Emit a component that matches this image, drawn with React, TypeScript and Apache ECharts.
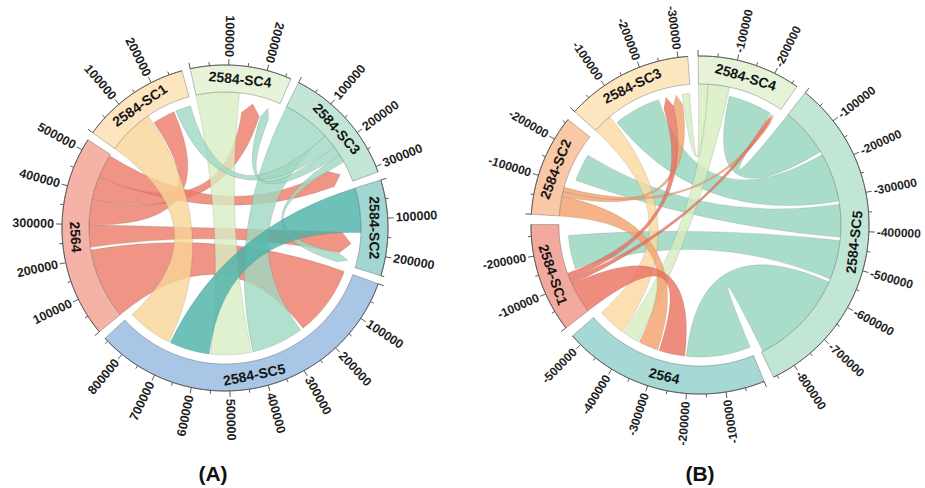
import React, { useEffect, useRef } from 'react';
import * as echarts from 'echarts';

// ---------- Chart (A) data ----------
const sectorsA = ['2584-SC5', '2564', '2584-SC1', '2584-SC4', '2584-SC3', '2584-SC2'];
const sizesA = [860000, 530000, 285000, 265000, 315000, 250000];
const bandColorsA = ['#a9c6e6', '#f5b2a7', '#fde5bf', '#e8f4da', '#c3e6d7', '#a2d6d2'];
const chordColorsA = ['#8fb4dd', '#ec7a66', '#f9d496', '#d8edc3', '#9fd8c2', '#48b2a8'];
// [source, sourceFrom, sourceTo, target, targetFrom, targetTo, arrow]
const linksA: [string, number, number, string, number, number, number][] = [
  ['2564', 0, 222000, '2584-SC5', 0, 235000, 0],
  ['2564', 230000, 300000, '2584-SC2', 140000, 215000, 1],
  ['2564', 300000, 380000, '2584-SC1', 148000, 224000, 0],
  ['2564', 380000, 450000, '2584-SC4', 150000, 215000, 1],
  ['2564', 450000, 525000, '2584-SC3', 250000, 310000, 1],
  ['2584-SC1', 0, 145000, '2584-SC5', 705000, 857000, 0],
  ['2584-SC4', 0, 135000, '2584-SC5', 425000, 560000, 0],
  ['2584-SC3', 0, 150000, '2584-SC5', 245000, 420000, 0],
  ['2584-SC3', 150000, 195000, '2584-SC1', 230000, 282000, 0],
  ['2584-SC3', 195000, 225000, '2584-SC4', 220000, 250000, 1],
  ['2584-SC3', 225000, 250000, '2584-SC2', 218000, 248000, 1],
  ['2584-SC2', 0, 140000, '2584-SC5', 565000, 700000, 0],
];

// ---------- Chart (B) data ----------
const sectorsB = ['2584-SC5', '2564', '2584-SC1', '2584-SC2', '2584-SC3', '2584-SC4'];
const sizesB = [860000, 530000, 280000, 260000, 325000, 265000];
const bandColorsB = ['#c2e6d6', '#a6d8d6', '#f3a99d', '#f9c9a7', '#fde7c1', '#e6f3d8'];
const chordColorsB = ['#94d4bb', '#7cc6c2', '#ea6f5e', '#f4a06a', '#fbd89f', '#d6ecbf'];
const linksB: [string, number, number, string, number, number, number][] = [
  ['2584-SC5', 0, 150000, '2584-SC4', 100000, 245000, 0],
  ['2584-SC5', 160000, 310000, '2584-SC3', 66000, 220000, 0],
  ['2584-SC5', 320000, 420000, '2584-SC2', 120000, 210000, 0],
  ['2584-SC5', 430000, 550000, '2584-SC1', 135000, 245000, 0],
  ['2584-SC5', 560000, 855000, '2564', 0, 210000, 0],
  ['2584-SC4', 0, 30000, '2584-SC3', 298000, 322000, 0],
  ['2584-SC4', 30000, 95000, '2564', 375000, 430000, 0],
  ['2584-SC3', 0, 60000, '2564', 435000, 525000, 0],
  ['2584-SC2', 0, 60000, '2564', 305000, 370000, 0],
  ['2584-SC2', 60000, 75000, '2584-SC3', 262000, 295000, 1],
  ['2584-SC2', 75000, 88000, '2584-SC4', 252000, 263000, 1],
  ['2584-SC1', 0, 95000, '2564', 215000, 300000, 0],
  ['2584-SC1', 95000, 110000, '2584-SC4', 245000, 258000, 1],
  ['2584-SC1', 110000, 130000, '2584-SC3', 228000, 262000, 1],
];

const tickStep = 50000;
const labelStep = 100000;
const panelTitles = ['(A)', '(B)'];

// ---------- layout / style ----------
const cfgA = { cx: 225, cy: 228, rOut: 163, rIn: 136, start: 110, gap: 3, tTop: 20, tBottom: 185, neg: false, tx: 213, fs: 12.5 };
const cfgB = { cx: 700, cy: 225, rOut: 169, rIn: 141, start: 38.5, gap: 3.5, tTop: 5, tBottom: 160, neg: true, tx: 700, fs: 12 };
const FONT = '"Liberation Sans", Arial, Helvetica, sans-serif';

function layout(sizes: number[], start: number, gap: number) {
  const total = sizes.reduce((a, b) => a + b, 0);
  const scale = (360 - sizes.length * gap) / total;
  const starts: number[] = [];
  let a = start;
  sizes.forEach((s) => {
    starts.push(a);
    a += s * scale + gap;
  });
  return { scale, starts };
}

function pt(cx: number, cy: number, r: number, deg: number): [number, number] {
  const t = (deg * Math.PI) / 180;
  return [cx + r * Math.sin(t), cy - r * Math.cos(t)];
}
const f = (n: number) => n.toFixed(2);

function arcL(cx: number, cy: number, r: number, d0: number, d1: number) {
  const n = Math.max(2, Math.ceil(Math.abs(d1 - d0) / 1));
  let s = '';
  for (let i = 1; i <= n; i++) {
    const p = pt(cx, cy, r, d0 + ((d1 - d0) * i) / n);
    s += ` L${f(p[0])} ${f(p[1])}`;
  }
  return s;
}

function norm(d: number) {
  let a = d % 360;
  if (a < 0) a += 360;
  return a;
}

function chordSeries(cfg: any, names: string[], sizes: number[], colors: string[], links: any[]) {
  const { scale, starts } = layout(sizes, cfg.start, cfg.gap);
  const ang = (name: string, v: number) => starts[names.indexOf(name)] + v * scale;
  const { cx, cy, rIn } = cfg;
  const rS = rIn;
  const rT = rIn - 9;
  return {
    type: 'custom',
    coordinateSystem: 'none',
    silent: true,
    data: links.map((_: any, i: number) => [i]),
    renderItem: (params: any) => {
      const l = links[params.dataIndex];
      const s0 = ang(l[0], l[1]);
      const s1 = ang(l[0], l[2]);
      const t0 = ang(l[3], l[4]);
      const t1 = ang(l[3], l[5]);
      const p0 = pt(cx, cy, rS, s0);
      let d = `M${f(p0[0])} ${f(p0[1])}` + arcL(cx, cy, rS, s0, s1);
      if (l[6]) {
        const c0 = pt(cx, cy, rT - 10, t0);
        const tip = pt(cx, cy, rT, (t0 + t1) / 2);
        const c1 = pt(cx, cy, rT - 10, t1);
        d += ` Q${f(cx)} ${f(cy)} ${f(c0[0])} ${f(c0[1])} L${f(tip[0])} ${f(tip[1])} L${f(c1[0])} ${f(c1[1])}`;
      } else {
        const q0 = pt(cx, cy, rT, t0);
        d += ` Q${f(cx)} ${f(cy)} ${f(q0[0])} ${f(q0[1])}` + arcL(cx, cy, rT, t0, t1);
      }
      d += ` Q${f(cx)} ${f(cy)} ${f(p0[0])} ${f(p0[1])} Z`;
      const col = colors[names.indexOf(l[0])];
      return {
        type: 'path',
        shape: { pathData: d },
        style: { fill: col, stroke: 'rgba(90,90,90,0.35)', lineWidth: 0.6, opacity: 0.8 },
      };
    },
  };
}

function sectorSeries(cfg: any, names: string[], sizes: number[], colors: string[]) {
  const { scale, starts } = layout(sizes, cfg.start, cfg.gap);
  const { cx, cy, rOut, rIn } = cfg;
  return {
    type: 'custom',
    coordinateSystem: 'none',
    silent: true,
    data: names.map((_, i) => [i]),
    renderItem: (params: any) => {
      const i = params.dataIndex;
      const d0 = starts[i];
      const d1 = d0 + sizes[i] * scale;
      const children: any[] = [];
      const a = pt(cx, cy, rOut, d0);
      const b = pt(cx, cy, rIn, d1);
      const band = `M${f(a[0])} ${f(a[1])}` + arcL(cx, cy, rOut, d0, d1) + ` L${f(b[0])} ${f(b[1])}` + arcL(cx, cy, rIn, d1, d0) + ' Z';
      children.push({
        type: 'path',
        shape: { pathData: band },
        style: { fill: colors[i], stroke: 'rgba(60,60,60,0.4)', lineWidth: 0.8 },
      });
      const axis = `M${f(a[0])} ${f(a[1])}` + arcL(cx, cy, rOut, d0, d1);
      children.push({
        type: 'path',
        shape: { pathData: axis },
        style: { fill: 'none', stroke: '#5a5a5a', lineWidth: 1 },
      });
      for (let v = 0; v <= sizes[i]; v += tickStep) {
        const th = d0 + v * scale;
        const major = v % labelStep === 0;
        const p1 = pt(cx, cy, rOut, th);
        const p2 = pt(cx, cy, rOut + (major ? 6 : 3.5), th);
        children.push({
          type: 'line',
          shape: { x1: p1[0], y1: p1[1], x2: p2[0], y2: p2[1] },
          style: { stroke: '#5a5a5a', lineWidth: 1 },
        });
        if (major && v > 0) {
          const n = norm(th);
          const outward = n >= cfg.tTop && n < cfg.tBottom;
          const lp = pt(cx, cy, rOut + 8, th);
          const screenDeg = outward ? th - 90 : th + 90;
          children.push({
            type: 'text',
            x: lp[0],
            y: lp[1],
            rotation: (-screenDeg * Math.PI) / 180,
            style: {
              text: (cfg.neg ? '-' : '') + String(v),
              fill: '#1e1e1e',
              fontSize: cfg.fs,
              fontWeight: 'bold',
              fontFamily: FONT,
              align: outward ? 'left' : 'right',
              verticalAlign: 'middle',
            },
          });
        }
      }
      const mid = (d0 + d1) / 2;
      const lp = pt(cx, cy, (rOut + rIn) / 2, mid);
      let rot = norm(mid);
      if (rot > 90 && rot <= 270) rot -= 180;
      else if (rot > 270) rot -= 360;
      children.push({
        type: 'text',
        x: lp[0],
        y: lp[1],
        rotation: (-rot * Math.PI) / 180,
        style: {
          text: names[i],
          fill: '#151515',
          fontSize: 14,
          fontWeight: 'bold',
          fontFamily: FONT,
          align: 'center',
          verticalAlign: 'middle',
        },
      });
      return { type: 'group', children };
    },
  };
}

export default function App() {
  const ref = useRef<HTMLDivElement>(null);
  useEffect(() => {
    if (!ref.current) return;
    const chart = echarts.init(ref.current, undefined, { renderer: 'svg' });
    chart.setOption({
      animation: false,
      backgroundColor: '#ffffff',
      graphic: [
        {
          type: 'text',
          x: cfgA.tx,
          y: 473,
          style: { text: panelTitles[0], fill: '#111', fontSize: 21, fontWeight: 'bold', fontFamily: FONT, align: 'center', verticalAlign: 'middle' },
        },
        {
          type: 'text',
          x: cfgB.tx,
          y: 473,
          style: { text: panelTitles[1], fill: '#111', fontSize: 21, fontWeight: 'bold', fontFamily: FONT, align: 'center', verticalAlign: 'middle' },
        },
      ],
      series: [
        chordSeries(cfgA, sectorsA, sizesA, chordColorsA, linksA),
        sectorSeries(cfgA, sectorsA, sizesA, bandColorsA),
        chordSeries(cfgB, sectorsB, sizesB, chordColorsB, linksB),
        sectorSeries(cfgB, sectorsB, sizesB, bandColorsB),
      ],
    });
    return () => chart.dispose();
  }, []);
  return <div ref={ref} style={{ position: 'fixed', left: 0, top: 0, width: 925, height: 488 }} />;
}
